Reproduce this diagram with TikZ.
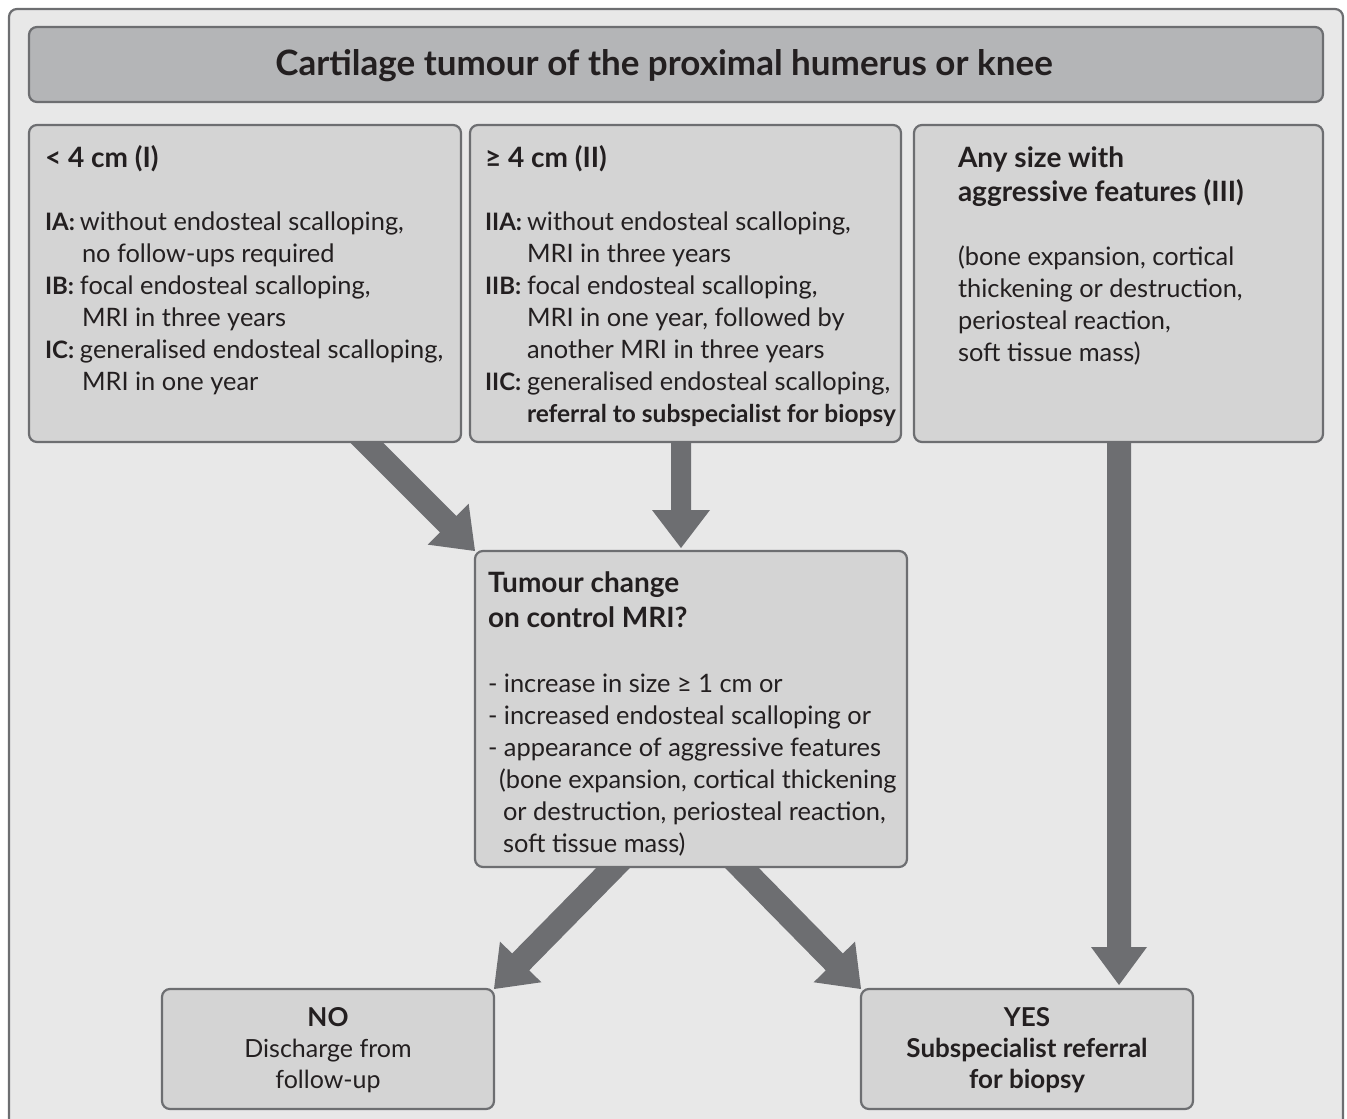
\documentclass[tikz,border=0pt]{standalone}
\usepackage{fontspec}
\setmainfont{Lato}
\usetikzlibrary{calc}
\definecolor{outerfill}{HTML}{E8E8E8}
\definecolor{boxfill}{HTML}{D4D4D4}
\definecolor{titlefill}{HTML}{B4B5B7}
\definecolor{edge}{HTML}{6D6E71}
\definecolor{ink}{HTML}{231F20}
\pgfdeclarelayer{back}
\pgfdeclarelayer{arrowlayer}
\pgfsetlayers{back,arrowlayer,main}
\newcommand\lab[2]{\makebox[#1][l]{\fontsize{24}{32}\selectfont\bfseries #2}}
% start, tip, shaft half width, head half width, head length
\newcommand\fatarrow[5]{%
  \coordinate (fa-s) at ($(#1)!-20pt!(#2)$);
  \coordinate (fa-b) at ($(#2)!#5!(#1)$);
  \fill[arrowfill] ($(fa-s)!#3!90:(#2)$) -- ($(fa-b)!#3!90:(#2)$) -- ($(fa-b)!#4!90:(#2)$)
    -- (#2) -- ($(fa-b)!#4!-90:(#2)$) -- ($(fa-b)!#3!-90:(#2)$) -- ($(fa-s)!#3!-90:(#2)$) -- cycle;
}
\begin{document}
\begin{tikzpicture}[x=1pt,y=-1pt,
  box/.style={draw=edge, fill=boxfill, line width=2.2pt, rounded corners=8pt, inner sep=0pt, outer sep=0pt},
  txt/.style={text=ink, inner sep=0pt, outer sep=0pt},
  body/.style={txt, font=\fontsize{25.4}{32}\selectfont},
  head/.style={txt, font=\bfseries\fontsize{28}{32}\selectfont},
  arrowfill/.style={fill=edge}]
\useasboundingbox (0,0) rectangle (1347,1119);
\begin{pgfonlayer}{back}
  \clip (0,0) rectangle (1347,1119);
  \draw[draw=edge, fill=outerfill, line width=2.2pt, rounded corners=8pt] (9,9) rectangle (1343,1160);
\end{pgfonlayer}

% boxes
\node[box, fill=titlefill, minimum width=1294pt, minimum height=75pt] (title) at (676,64.5) {};
\node[box, minimum width=432pt, minimum height=317pt] (b1) at (245,283.5) {};
\node[box, minimum width=431pt, minimum height=317pt] (b2) at (685.5,283.5) {};
\node[box, minimum width=409pt, minimum height=317pt] (b3) at (1118.5,283.5) {};
\node[box, minimum width=432pt, minimum height=316pt] (mid) at (691,709) {};
\node[box, minimum width=332pt, minimum height=120pt] (no) at (328,1049) {};
\node[box, minimum width=332pt, minimum height=120pt] (yes) at (1027,1049) {};

% texts
\node[txt, font=\bfseries\fontsize{35}{40}\selectfont, anchor=base] (titletext) at (664,75) {Cartilage tumour of the proximal humerus or knee};

\node[head, anchor=base west] (h1) at (45,167) {< 4 cm (I)};
\node[body, anchor=base west] (t1) at (45,230) {\begin{tabular}[t]{@{}l@{}}
\lab{35pt}{IA:}without endosteal scalloping,\\
\hspace*{37pt}no follow-ups required\\
\lab{35pt}{IB:}focal endosteal scalloping,\\
\hspace*{37pt}MRI in three years\\
\lab{35pt}{IC:}generalised endosteal scalloping,\\
\hspace*{37pt}MRI in one year
\end{tabular}};

\node[head, anchor=base west] (h2) at (485,167) {≥ 4 cm (II)};
\node[body, anchor=base west] (t2) at (485,230) {\begin{tabular}[t]{@{}l@{}}
\lab{42pt}{IIA:}without endosteal scalloping,\\
\hspace*{42pt}MRI in three years\\
\lab{42pt}{IIB:}focal endosteal scalloping,\\
\hspace*{42pt}MRI in one year, followed by\\
\hspace*{42pt}another MRI in three years\\
\lab{42pt}{IIC:}generalised endosteal scalloping,\\
\hspace*{42pt}{\fontsize{24.5}{32}\selectfont\bfseries referral to subspecialist for biopsy}
\end{tabular}};

\node[txt, font=\bfseries\fontsize{28}{34}\selectfont, anchor=base west] (h3) at (958,167) {\begin{tabular}[t]{@{}l@{}}
Any size with\\
aggressive features (III)
\end{tabular}};
\node[body, anchor=base west] (t3) at (958,265) {\begin{tabular}[t]{@{}l@{}}
(bone expansion, cortical\\
thickening or destruction,\\
periosteal reaction,\\
soft tissue mass)
\end{tabular}};

\node[txt, font=\bfseries\fontsize{28}{35}\selectfont, anchor=base west] (hm) at (488,592) {\begin{tabular}[t]{@{}l@{}}
Tumour change\\
on control MRI?
\end{tabular}};
\node[body, anchor=base west] (tm) at (488,692) {\begin{tabular}[t]{@{}l@{}}
- increase in size ≥ 1 cm or\\
- increased endosteal scalloping or\\
- appearance of aggressive features\\
\hspace*{11pt}(bone expansion, cortical thickening\\
\hspace*{15pt}or destruction, periosteal reaction,\\
\hspace*{15pt}soft tissue mass)
\end{tabular}};

\node[txt, font=\fontsize{25}{31}\selectfont, anchor=base] (tno) at (328,1026) {\begin{tabular}[t]{@{}c@{}}
{\fontsize{26}{31}\selectfont\bfseries NO}\\
Discharge from\\
follow-up
\end{tabular}};
\node[txt, font=\bfseries\fontsize{26}{31}\selectfont, anchor=base] (tyes) at (1027,1026) {\begin{tabular}[t]{@{}c@{}}
YES\\
Subspecialist referral\\
for biopsy
\end{tabular}};

% arrows
\coordinate (a1s) at ([xshift=337pt]b1.south west);
\coordinate (a2s) at ([xshift=211pt]b2.south west);
\coordinate (a2t) at ([xshift=206pt,yshift=3pt]mid.north west);
\coordinate (a3s) at ([xshift=205pt]b3.south west);
\coordinate (a3t) at ([xshift=258pt,yshift=4pt]yes.north west);
\coordinate (a4s) at ([xshift=139pt]mid.south west);
\coordinate (a5s) at ([xshift=266pt]mid.south west);
\begin{pgfonlayer}{arrowlayer}
  \fatarrow{a1s}{mid.north west}{11.5pt}{29pt}{38pt}
  \fatarrow{a2s}{a2t}{10pt}{29pt}{38pt}
  \fatarrow{a3s}{a3t}{12pt}{28pt}{38pt}
  \fatarrow{a4s}{no.north east}{12pt}{29pt}{38pt}
  \fatarrow{a5s}{yes.north west}{12pt}{29pt}{38pt}
\end{pgfonlayer}
\end{tikzpicture}
\end{document}
